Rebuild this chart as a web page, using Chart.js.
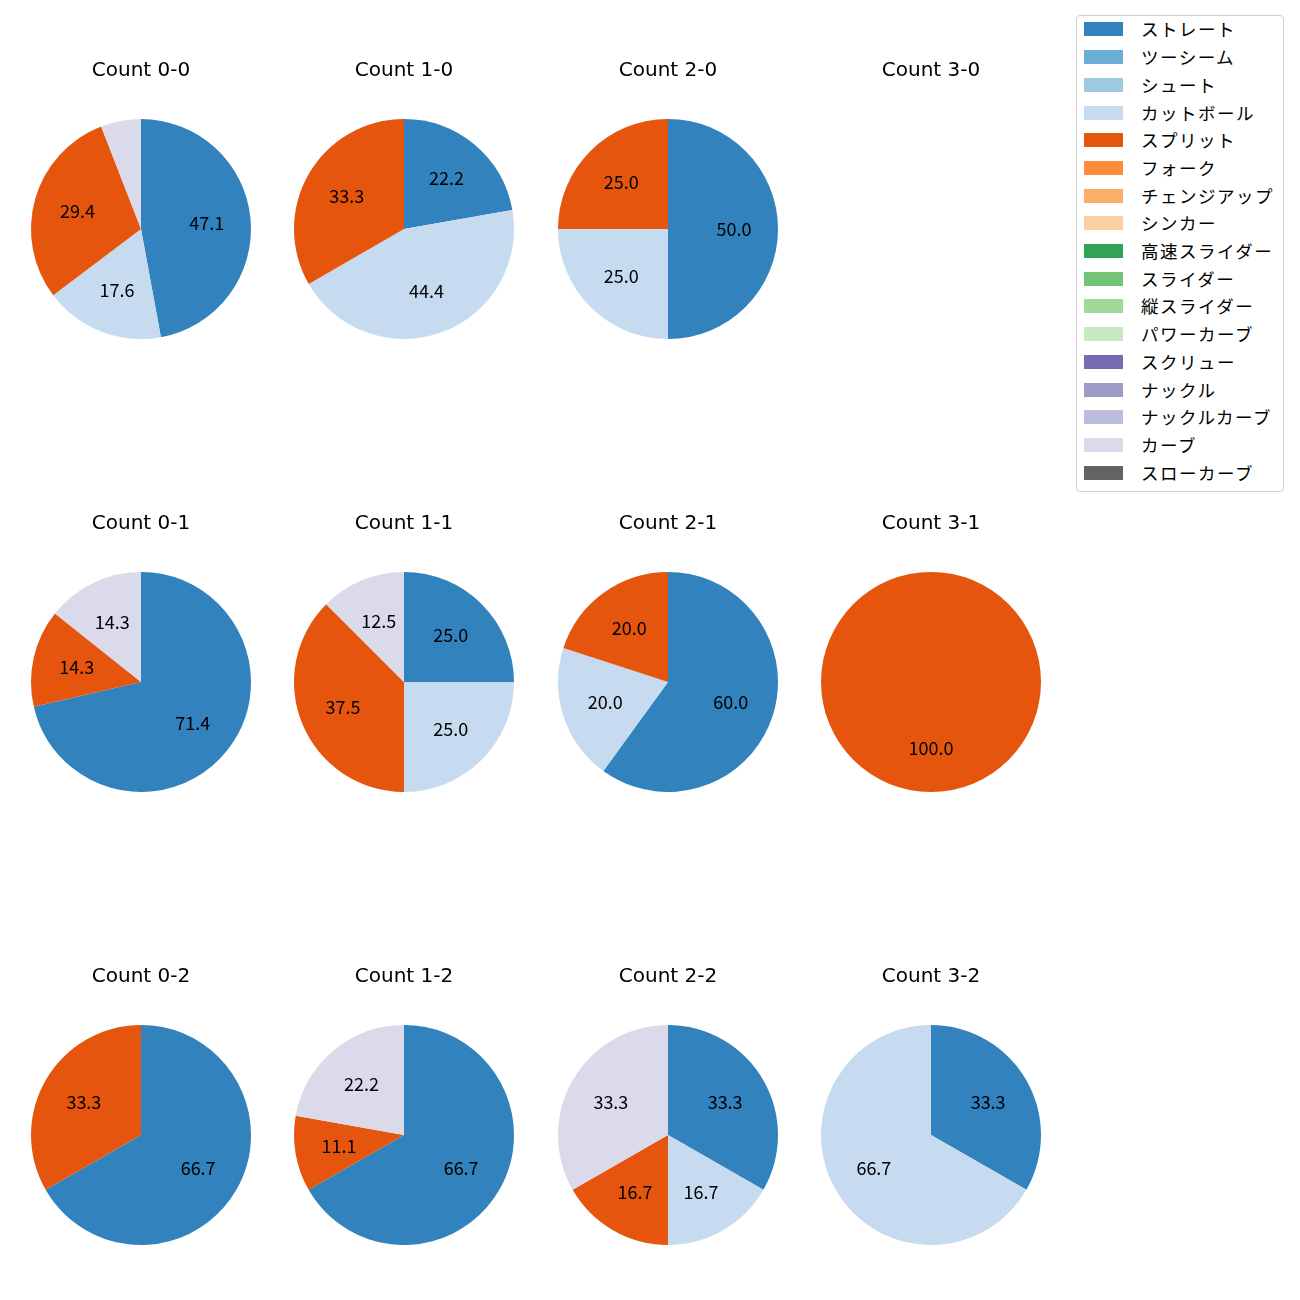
<!DOCTYPE html>
<html>
<head>
<meta charset="utf-8">
<script src="https://cdn.jsdelivr.net/npm/chart.js@4.4.1/dist/chart.umd.min.js"></script>
<style>
  body { margin: 0; background: #fff; width: 1300px; height: 1300px; position: relative; overflow: hidden; }
  canvas.pie { position: absolute; }
  #legend { position: absolute; left: 1076px; top: 15px; width: 206px; height: 475px;
            border: 1px solid #d0d0d0; border-radius: 4px; background: #fff;
            font-family: "Noto Sans CJK JP", sans-serif; font-size: 17.5px; color: #000; }
  .lg-row { position: absolute; left: 0; height: 20px; }
  .lg-box { position: absolute; left: 7px; top: 3px; width: 39px; height: 14px; }
  .lg-txt { position: absolute; left: 64px; top: 0; line-height: 20px; white-space: nowrap; letter-spacing: 1.5px; }
</style>
</head>
<body>
<div id="legend"></div>
<script>
// pitch types in legend order and their tab20c colours
const pitchNames = ['ストレート', 'ツーシーム', 'シュート', 'カットボール', 'スプリット', 'フォーク',
    'チェンジアップ', 'シンカー', '高速スライダー', 'スライダー', '縦スライダー', 'パワーカーブ',
    'スクリュー', 'ナックル', 'ナックルカーブ', 'カーブ', 'スローカーブ'];
const pitchColors = ['#3182bd', '#6baed6', '#9ecae1', '#c6dbef', '#e6550d', '#fd8d3c',
    '#fdae6b', '#fdd0a2', '#31a354', '#74c476', '#a1d99b', '#c7e9c0',
    '#756bb1', '#9e9ac8', '#bcbddc', '#dadaeb', '#636363'];

// counts, in grid order (row by row)
const counts = ['0-0', '1-0', '2-0', '3-0', '0-1', '1-1', '2-1', '3-1', '0-2', '1-2', '2-2', '3-2'];

// share (%) of each pitch per count
const straight = [47.1, 22.2, 50.0, 0, 71.4, 25.0, 60.0, 0, 66.7, 66.7, 33.3, 33.3];
const cutter   = [17.6, 44.4, 25.0, 0, 0, 25.0, 20.0, 0, 0, 0, 16.7, 66.7];
const splitter = [29.4, 33.3, 25.0, 0, 14.3, 37.5, 20.0, 100.0, 33.3, 11.1, 16.7, 0];
const curve    = [5.9, 0, 0, 0, 14.3, 12.5, 0, 0, 0, 22.2, 33.3, 0];

const colCenters = [141, 404, 667.5, 930.5];
const rowCenters = [229, 682, 1135];
const pieRadius = 110;
const cvW = 262, cvH = 360;

// percent labels inside wedges (like autopct)
const pctLabels = {
    id: 'pctLabels',
    afterDatasetsDraw(chart) {
        const ctx = chart.ctx;
        const meta = chart.getDatasetMeta(0);
        const values = chart.data.datasets[0].data;
        ctx.save();
        ctx.font = '18px "Noto Sans CJK JP", sans-serif';
        ctx.fillStyle = '#000';
        ctx.textAlign = 'center';
        ctx.textBaseline = 'middle';
        meta.data.forEach((arc, i) => {
            const v = values[i];
            if (!v || v < 10) return;
            const p = arc.getProps(['x', 'y', 'startAngle', 'endAngle', 'outerRadius'], true);
            const mid = (p.startAngle + p.endAngle) / 2;
            const r = p.outerRadius * 0.6;
            ctx.fillText(v.toFixed(1), p.x + Math.cos(mid) * r, p.y + Math.sin(mid) * r);
        });
        ctx.restore();
    }
};

function valuesFor(idx) {
    const vals = pitchNames.map(() => 0);
    vals[0] = straight[idx];
    vals[3] = cutter[idx];
    vals[4] = splitter[idx];
    vals[15] = curve[idx];
    return vals;
}

counts.forEach((c, idx) => {
    const row = Math.floor(idx / 4), col = idx % 4;
    const cx = colCenters[col], cy = rowCenters[row];
    const canvas = document.createElement('canvas');
    canvas.className = 'pie';
    canvas.width = cvW;
    canvas.height = cvH;
    canvas.style.left = (cx - cvW / 2) + 'px';
    canvas.style.top = (cy - cvH / 2) + 'px';
    document.body.appendChild(canvas);

    new Chart(canvas, {
        type: 'pie',
        data: {
            labels: pitchNames,
            datasets: [{
                data: valuesFor(idx),
                backgroundColor: pitchColors,
                borderWidth: 0
            }]
        },
        options: {
            responsive: false,
            animation: false,
            radius: pieRadius,
            layout: { padding: { top: 0, bottom: 34, left: 0, right: 0 } },
            plugins: {
                legend: { display: false },
                tooltip: { enabled: false },
                title: {
                    display: true,
                    text: 'Count ' + c,
                    color: '#000',
                    font: { family: '"DejaVu Sans", sans-serif', size: 20, weight: 'normal', lineHeight: 1.2 },
                    padding: { top: 10, bottom: 0 }
                }
            }
        },
        plugins: [pctLabels]
    });
});

// legend
const legend = document.getElementById('legend');
pitchNames.forEach((name, i) => {
    const rowDiv = document.createElement('div');
    rowDiv.className = 'lg-row';
    rowDiv.style.top = (29.4 - 15 - 1 - 10 + i * 27.7) + 'px';
    rowDiv.innerHTML = `<span class="lg-box" style="background:${pitchColors[i]}"></span>` +
        `<span class="lg-txt">${name}</span>`;
    legend.appendChild(rowDiv);
});
</script>
</body>
</html>
